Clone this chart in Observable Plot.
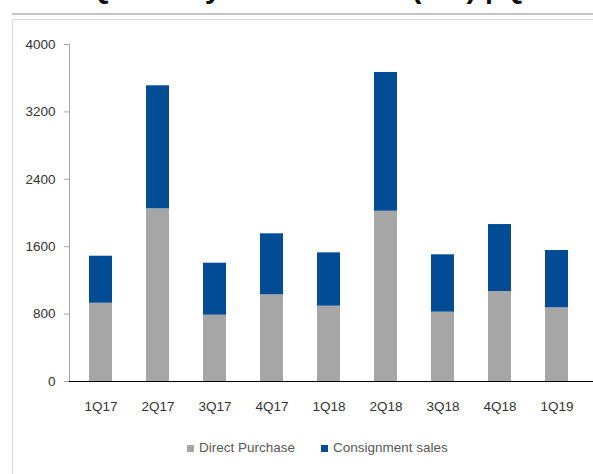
<!DOCTYPE html>
<html>
<head>
<meta charset="utf-8">
<script src="https://cdn.jsdelivr.net/npm/d3@7"></script>
<script src="https://cdn.jsdelivr.net/npm/@observablehq/plot@0.6"></script>
<style>
  html, body { margin: 0; padding: 0; background: #fff; overflow: hidden; width: 593px; height: 474px; }
  body { position: relative; font-family: "Liberation Sans", Arial, sans-serif; }
  #title { position: absolute; left: 0; top: 0; width: 593px; height: 12px; overflow: hidden; }
  #title span { position: absolute; left: 88px; top: -27px; font: bold 30px "Liberation Sans Narrow", "Liberation Sans", sans-serif; color: #111; white-space: nowrap; line-height: 30px; }
  #rule { position: absolute; left: 12px; top: 13px; width: 600px; height: 2px; background: #c3c3c3; }
  #box { position: absolute; left: 12px; top: 19px; width: 620px; height: 500px; border: 1px solid #d9d9d9; box-sizing: border-box; }
  #chart { position: absolute; left: 0; top: 0; }
  #legend { position: absolute; left: 187px; top: 440px; display: flex; align-items: center; font-size: 13.5px; color: #595959; line-height: 16px; }
  #legend .item { display: flex; align-items: center; margin-right: 26px; }
  #legend .sw { width: 7px; height: 7px; margin-right: 5px; }
</style>
</head>
<body>
<div id="title"><span>Quarterly Gross Sales (mn) | Quarterly Mix</span></div>
<div id="rule"></div>
<div id="box"></div>
<div id="chart"></div>
<div id="legend"></div>
<script>
const quarters = ["1Q17", "2Q17", "3Q17", "4Q17", "1Q18", "2Q18", "3Q18", "4Q18", "1Q19"];
const directPurchase = [929, 2050, 787, 1029, 894, 2021, 823, 1068, 875];
const consignmentSales = [558, 1460, 617, 724, 633, 1647, 681, 795, 680];
const seriesNames = ["Direct Purchase", "Consignment sales"];
const seriesColors = ["#a6a6a6", "#024c96"];
const yTicks = [0, 800, 1600, 2400, 3200, 4000];

const data = [];
quarters.forEach((q, i) => {
  data.push({quarter: q, series: seriesNames[0], value: directPurchase[i]});
  data.push({quarter: q, series: seriesNames[1], value: consignmentSales[i]});
});

const plot = Plot.plot({
  width: 593,
  height: 425,
  marginTop: 44,
  marginBottom: 44,
  marginLeft: 69,
  marginRight: 0,
  style: {fontFamily: "'Liberation Sans', Arial, sans-serif", fontSize: "13.5px", color: "#333", background: "transparent"},
  x: {domain: quarters, range: [69, 587.5], paddingInner: 0.595, paddingOuter: 0.2975, label: null},
  y: {domain: [0, 4000], label: null},
  color: {domain: seriesNames, range: seriesColors},
  marks: [
    Plot.frame({anchor: "left", stroke: "#a6a6a6"}),
    Plot.axisY({ticks: yTicks, tickSize: 5, tickPadding: 9, stroke: "#a6a6a6", tickFormat: d => String(d), label: null, fill: "#333", fontSize: 13.5}),
    Plot.axisX({tickSize: 0, tickPadding: 20, label: null, fill: "#333", fontSize: 13.5}),
    Plot.barY(data, Plot.stackY({x: "quarter", y: "value", fill: "series", order: seriesNames})),
    Plot.ruleY([0], {stroke: "#000", strokeWidth: 1.2})
  ]
});
document.getElementById("chart").appendChild(plot);

const legend = document.getElementById("legend");
seriesNames.forEach((name, i) => {
  const item = document.createElement("div");
  item.className = "item";
  const sw = document.createElement("span");
  sw.className = "sw";
  sw.style.background = seriesColors[i];
  const label = document.createElement("span");
  label.textContent = name;
  item.appendChild(sw);
  item.appendChild(label);
  legend.appendChild(item);
});
</script>
</body>
</html>
